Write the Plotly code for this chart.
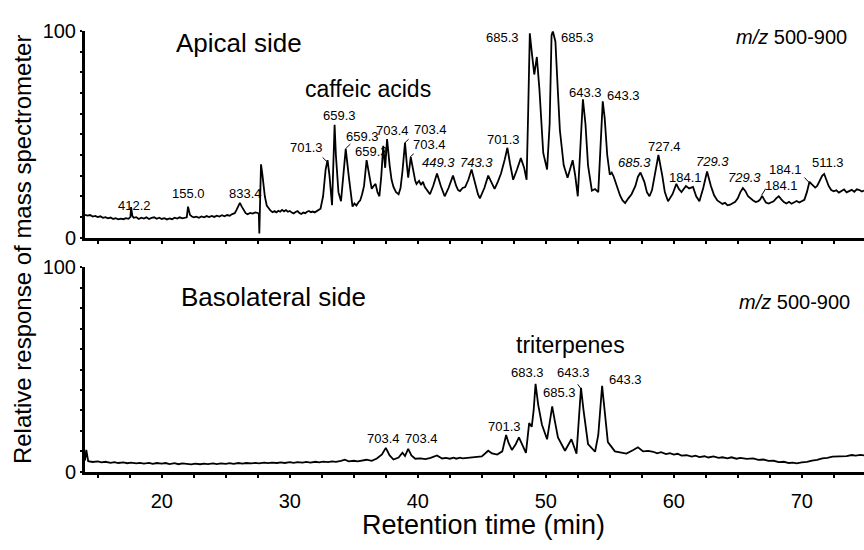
import plotly.graph_objects as go

# ---------------- data (retention time [min], relative response [%]) ----------------
apical_points = [
    (14.0, 11.0), (14.2, 10.6), (14.4, 10.9), (14.6, 10.2), (14.8, 10.5), (15.0, 9.9), (15.2, 10.3),
    (15.4, 9.6), (15.6, 9.9), (15.8, 9.3), (16.0, 9.7), (16.2, 9.0), (16.4, 9.4), (16.6, 8.8),
    (16.8, 9.2), (17.0, 8.9), (17.2, 9.4), (17.4, 9.1), (17.55, 10.0), (17.6, 14.8), (17.7, 10.5),
    (17.8, 9.6), (18.0, 9.9), (18.2, 9.0), (18.4, 9.6), (18.6, 9.2), (18.8, 9.8), (19.0, 9.0),
    (19.2, 9.5), (19.4, 9.8), (19.6, 9.1), (19.8, 9.6), (20.0, 9.0), (20.2, 9.4), (20.4, 8.8),
    (20.6, 9.3), (20.8, 8.9), (21.0, 9.6), (21.2, 9.2), (21.4, 9.8), (21.6, 9.3), (21.8, 9.6),
    (21.95, 9.8), (22.05, 15.0), (22.2, 11.0), (22.35, 10.2), (22.5, 9.8), (22.7, 10.1), (22.9, 9.6),
    (23.1, 10.2), (23.3, 9.8), (23.5, 10.4), (23.7, 9.9), (23.9, 10.5), (24.1, 10.0), (24.3, 10.6),
    (24.5, 10.2), (24.7, 10.8), (24.9, 10.3), (25.1, 10.9), (25.3, 10.6), (25.5, 11.4), (25.7, 11.8),
    (25.85, 13.5), (26.0, 16.0), (26.1, 16.8), (26.25, 15.0), (26.4, 13.0), (26.55, 11.8), (26.7, 11.3),
    (26.9, 11.9), (27.1, 11.6), (27.3, 12.2), (27.5, 11.9), (27.58, 11.5), (27.62, 2.0), (27.68, 20.0),
    (27.75, 35.5), (27.85, 31.0), (27.95, 25.0), (28.05, 20.0), (28.2, 15.5), (28.35, 14.0), (28.5, 13.0),
    (28.65, 12.3), (28.8, 12.8), (28.95, 12.2), (29.1, 13.0), (29.25, 12.5), (29.4, 13.4), (29.55, 12.7),
    (29.7, 13.3), (29.85, 12.5), (30.0, 12.9), (30.15, 12.1), (30.3, 11.7), (30.45, 12.4), (30.6, 12.8),
    (30.75, 11.9), (30.9, 11.4), (31.05, 12.1), (31.2, 11.8), (31.35, 12.5), (31.5, 12.9), (31.65, 12.3),
    (31.8, 12.6), (31.95, 12.2), (32.1, 12.9), (32.25, 13.3), (32.4, 14.0), (32.6, 20.0), (32.8, 33.0),
    (32.95, 37.5), (33.1, 30.0), (33.3, 15.7), (33.42, 35.0), (33.5, 54.6), (33.6, 40.0), (33.8, 22.0),
    (34.0, 17.6), (34.2, 32.0), (34.37, 43.0), (34.6, 30.0), (34.9, 15.0), (35.05, 16.5), (35.2, 15.5),
    (35.35, 17.0), (35.5, 18.0), (35.65, 21.0), (35.8, 25.0), (36.0, 37.5), (36.2, 30.0), (36.4, 23.6),
    (36.55, 25.0), (36.7, 26.0), (36.85, 22.0), (37.0, 20.0), (37.15, 30.0), (37.3, 44.4), (37.45, 33.8),
    (37.6, 47.7), (37.8, 35.0), (37.95, 28.0), (38.1, 24.5), (38.3, 22.0), (38.5, 21.0), (38.65, 24.0),
    (38.8, 32.0), (39.0, 46.0), (39.15, 35.0), (39.25, 29.0), (39.45, 39.0), (39.65, 32.0), (39.8, 27.5),
    (39.9, 26.0), (40.1, 27.5), (40.25, 25.5), (40.4, 27.0), (40.55, 24.5), (40.7, 23.0), (40.95, 21.0),
    (41.2, 25.0), (41.5, 31.0), (41.8, 25.0), (41.95, 22.0), (42.1, 20.0), (42.4, 24.0), (42.75, 30.0),
    (43.0, 25.0), (43.15, 23.0), (43.3, 22.5), (43.5, 24.0), (43.7, 24.5), (43.95, 28.0), (44.2, 33.0),
    (44.5, 26.0), (44.7, 21.0), (44.85, 19.0), (45.2, 24.0), (45.5, 30.0), (45.8, 26.0), (46.0, 23.6),
    (46.25, 27.0), (46.5, 31.0), (46.8, 38.0), (47.0, 43.5), (47.2, 36.0), (47.45, 28.0), (47.75, 33.0),
    (48.05, 38.5), (48.3, 34.0), (48.5, 28.0), (48.62, 60.0), (48.75, 99.0), (48.9, 90.0), (49.1, 79.0),
    (49.3, 87.5), (49.5, 72.0), (49.8, 41.0), (50.1, 33.0), (50.3, 55.0), (50.45, 98.0), (50.55, 100.0),
    (50.75, 95.0), (50.95, 70.0), (51.1, 52.0), (51.4, 35.0), (51.7, 29.0), (52.1, 37.5), (52.3, 30.0),
    (52.5, 20.0), (52.7, 45.0), (52.9, 67.0), (53.1, 55.0), (53.3, 35.0), (53.6, 22.7), (53.85, 23.5),
    (54.1, 22.0), (54.25, 40.0), (54.45, 66.0), (54.6, 58.0), (54.8, 40.0), (55.0, 30.5), (55.15, 31.5),
    (55.3, 29.6), (55.55, 25.0), (55.8, 20.4), (56.0, 18.0), (56.2, 16.7), (56.45, 19.0), (56.7, 21.0),
    (57.0, 25.0), (57.2, 29.5), (57.4, 31.5), (57.7, 27.0), (57.9, 22.0), (58.1, 20.0), (58.3, 23.0),
    (58.5, 30.0), (58.8, 40.0), (59.1, 30.0), (59.3, 22.0), (59.55, 17.6), (59.9, 21.0), (60.2, 26.0),
    (60.4, 23.5), (60.6, 22.0), (60.8, 24.0), (60.95, 25.0), (61.2, 23.8), (61.5, 24.5), (61.75, 20.0),
    (62.0, 17.6), (62.3, 24.0), (62.6, 32.0), (62.9, 25.0), (63.15, 20.5), (63.4, 18.0), (63.6, 17.0),
    (63.8, 16.3), (64.0, 16.8), (64.2, 15.6), (64.4, 15.9), (64.6, 16.5), (64.8, 17.3), (65.0, 19.0),
    (65.2, 22.0), (65.4, 24.0), (65.6, 22.5), (65.8, 20.0), (66.0, 18.8), (66.2, 18.0), (66.4, 17.2),
    (66.6, 17.6), (66.75, 18.5), (66.9, 20.2), (67.05, 18.5), (67.2, 17.0), (67.4, 16.5), (67.6, 16.9),
    (67.8, 17.6), (68.0, 19.0), (68.2, 20.0), (68.4, 18.5), (68.6, 17.2), (68.8, 16.5), (69.0, 17.3),
    (69.2, 16.4), (69.4, 16.9), (69.6, 17.7), (69.8, 17.0), (70.0, 17.8), (70.2, 18.3), (70.4, 22.0),
    (70.6, 27.0), (70.75, 26.0), (70.9, 25.0), (71.05, 24.2), (71.2, 25.0), (71.4, 27.5), (71.6, 30.0),
    (71.75, 30.8), (71.9, 28.0), (72.1, 25.0), (72.3, 23.0), (72.5, 22.4), (72.7, 22.9), (72.9, 21.8),
    (73.1, 22.6), (73.3, 23.3), (73.5, 21.9), (73.7, 22.7), (73.9, 23.1), (74.1, 22.2), (74.3, 23.4),
    (74.5, 23.0), (74.7, 22.3), (74.86, 22.8),
]

baso_points = [
    (14.0, 5.5), (14.1, 10.7), (14.25, 5.2), (14.6, 4.8), (15.0, 5.1), (15.3, 4.6), (15.6, 4.9),
    (16.0, 4.4), (16.3, 4.7), (16.6, 4.3), (17.0, 4.6), (17.3, 4.2), (17.6, 4.5), (18.0, 4.1),
    (18.3, 4.4), (18.6, 4.0), (19.0, 4.4), (19.3, 3.9), (19.6, 4.3), (20.0, 4.0), (20.3, 4.3),
    (20.6, 3.8), (21.0, 4.2), (21.3, 3.7), (21.6, 4.1), (22.0, 3.8), (22.3, 3.6), (22.6, 4.0),
    (23.0, 3.7), (23.3, 4.0), (23.6, 3.8), (24.0, 4.1), (24.3, 3.8), (24.6, 4.1), (25.0, 3.9),
    (25.3, 4.2), (25.6, 3.9), (26.0, 4.3), (26.3, 4.0), (26.6, 4.3), (27.0, 4.1), (27.3, 4.4),
    (27.6, 4.1), (28.0, 4.5), (28.3, 4.2), (28.6, 4.5), (29.0, 4.3), (29.3, 4.6), (29.6, 4.3),
    (30.0, 4.7), (30.3, 4.4), (30.6, 4.7), (31.0, 4.5), (31.3, 4.8), (31.6, 4.5), (32.0, 4.9),
    (32.3, 4.6), (32.6, 5.0), (33.0, 4.7), (33.3, 5.1), (33.6, 4.9), (34.0, 5.3), (34.3, 5.9),
    (34.6, 5.1), (35.0, 5.4), (35.3, 5.1), (35.6, 5.6), (36.0, 5.9), (36.4, 5.4), (36.8, 6.5),
    (37.2, 8.5), (37.5, 11.7), (37.8, 8.0), (38.1, 6.0), (38.5, 7.0), (38.8, 9.3), (39.0, 7.7),
    (39.25, 11.2), (39.5, 8.0), (39.8, 6.4), (40.2, 6.6), (40.6, 6.2), (41.0, 6.8), (41.5, 8.0),
    (41.9, 6.5), (42.2, 6.8), (42.5, 6.4), (42.8, 6.9), (43.0, 6.4), (43.3, 6.9), (43.5, 6.6),
    (44.0, 6.8), (44.5, 7.2), (45.0, 7.5), (45.5, 10.3), (45.8, 9.0), (46.2, 8.4), (46.6, 10.0),
    (46.9, 18.0), (47.1, 14.0), (47.35, 10.7), (47.65, 13.5), (47.9, 16.8), (48.2, 12.5), (48.45, 9.3),
    (48.7, 23.8), (48.9, 22.0), (49.05, 30.0), (49.2, 43.0), (49.4, 33.0), (49.7, 23.0), (50.1, 15.9),
    (50.3, 24.0), (50.5, 32.0), (50.7, 25.0), (50.95, 16.8), (51.5, 10.3), (52.0, 15.9), (52.4, 8.9),
    (52.6, 25.0), (52.75, 41.0), (52.95, 30.0), (53.3, 13.6), (53.85, 9.8), (54.1, 18.0), (54.4, 42.0),
    (54.6, 30.0), (54.85, 14.5), (55.4, 10.0), (55.9, 9.5), (56.3, 8.9), (56.8, 10.5), (57.2, 12.0),
    (57.6, 10.0), (58.0, 10.2), (58.4, 9.8), (58.7, 9.0), (59.0, 9.6), (59.4, 8.7), (59.7, 9.1),
    (60.0, 8.4), (60.3, 8.8), (60.6, 7.9), (61.0, 8.1), (61.4, 7.4), (61.7, 7.9), (62.0, 7.2),
    (62.4, 7.6), (62.7, 7.0), (63.1, 7.5), (63.5, 6.8), (63.8, 7.1), (64.2, 6.6), (64.5, 7.1),
    (64.9, 6.4), (65.2, 6.8), (65.7, 6.3), (66.2, 6.6), (66.6, 5.8), (67.0, 6.0), (67.4, 5.3),
    (67.8, 5.4), (68.2, 4.7), (68.6, 4.9), (69.0, 4.3), (69.3, 4.5), (69.6, 4.1), (70.0, 4.6),
    (70.4, 4.8), (70.8, 5.5), (71.2, 5.8), (71.6, 6.6), (72.0, 6.8), (72.4, 7.4), (72.75, 7.5),
    (73.1, 7.9), (73.5, 7.7), (73.9, 8.2), (74.2, 7.9), (74.6, 8.3), (74.86, 8.0),
]

# peak labels: (text, x, y, italic)
apical_labels = [("412.2", 17.9, 15.3, False), ("155.0", 22.05, 21.3, False), ("833.4", 26.5, 21.3, False),
                 ("701.3", 31.3, 43.5, False), ("659.3", 33.9, 59.3, False), ("659.3", 35.7, 49.0, False),
                 ("659.3", 36.4, 41.6, False), ("703.4", 38.0, 51.9, False), ("703.4", 41.0, 52.3, False),
                 ("703.4", 40.9, 44.9, False), ("449.3", 41.65, 36.6, True), ("743.3", 44.6, 36.6, True),
                 ("701.3", 46.7, 47.7, False), ("685.3", 46.65, 96.8, False), ("685.3", 52.45, 96.8, False),
                 ("643.3", 53.1, 70.4, False), ("643.3", 56.1, 69.0, False), ("685.3", 56.9, 36.6, True),
                 ("727.4", 59.3, 44.0, False), ("184.1", 60.95, 29.2, False), ("729.3", 63.05, 37.0, True),
                 ("729.3", 65.5, 29.2, True), ("184.1", 68.4, 25.0, False), ("184.1", 68.7, 32.9, False),
                 ("511.3", 72.05, 36.6, False)]
baso_labels = [("703.4", 37.3, 16.4, False), ("703.4", 40.3, 16.4, False), ("701.3", 46.8, 22.4, False),
               ("683.3", 48.6, 48.6, False), ("643.3", 52.2, 48.6, False), ("685.3", 51.1, 38.8, False),
               ("643.3", 56.2, 44.9, False)]

# leader lines from label to peak: (x_label, y_label, x_peak, y_peak)
apical_leaders = [(32.45, 39.5, 32.9, 36.8), (34.85, 46.0, 34.35, 43.0), (39.4, 48.3, 39.0, 46.0),
                  (39.8, 41.3, 39.4, 39.0), (67.25, 24.4, 66.86, 20.5), (70.1, 29.8, 70.6, 26.5)]
baso_leaders = [(52.41, 43.5, 52.8, 40.2)]

x_tickvals = [20, 30, 40, 50, 60, 70]
y_tickvals = [0, 100]

apical_t = [p[0] for p in apical_points]
apical_v = [p[1] for p in apical_points]
baso_t = [p[0] for p in baso_points]
baso_v = [p[1] for p in baso_points]

FONT = "Liberation Sans, Arial, sans-serif"

fig = go.Figure()
fig.add_trace(go.Scatter(x=apical_t, y=apical_v, mode="lines", line=dict(color="black", width=1.8),
                         xaxis="x", yaxis="y", showlegend=False))
fig.add_trace(go.Scatter(x=baso_t, y=baso_v, mode="lines", line=dict(color="black", width=1.8),
                         xaxis="x2", yaxis="y2", showlegend=False))

minor_x = [v / 2 for v in range(30, 150, 5)]
xcommon = dict(range=[14, 74.86], domain=[85 / 864, 1.0], showgrid=False, zeroline=False,
               showline=True, linecolor="black", linewidth=3, ticks="outside", ticklen=3, tickwidth=2,
               tickcolor="black", tickmode="array", tickvals=minor_x)
yvals = list(range(0, 101, 10))
ycommon = dict(range=[0, 100], showgrid=False, zeroline=False, showline=True, linecolor="black",
               linewidth=3, ticks="outside", ticklen=2, tickwidth=2, tickcolor="black",
               tickmode="array", tickvals=yvals,
               ticktext=[str(v) if v in y_tickvals else "" for v in yvals],
               tickfont=dict(family=FONT, size=20, color="black"))

fig.update_layout(
    width=864, height=550, margin=dict(l=0, r=0, t=0, b=0),
    paper_bgcolor="white", plot_bgcolor="white",
    xaxis=dict(**xcommon, anchor="y", showticklabels=False),
    yaxis=dict(**ycommon, domain=[(550 - 236) / 550, (550 - 21) / 550], anchor="x"),
    xaxis2=dict(**xcommon, anchor="y2", showticklabels=True,
                ticktext=[str(int(v)) if v in x_tickvals else "" for v in minor_x],
                ticklabelstandoff=6,
                tickfont=dict(family=FONT, size=20, color="black")),
    yaxis2=dict(**ycommon, domain=[(550 - 480) / 550, (550 - 267) / 550], anchor="x2"),
)

ann = []
lab_font = dict(family=FONT, size=13, color="black")
for txt, x, y, it in apical_labels:
    ann.append(dict(x=x, y=y, xref="x", yref="y", text=f"<i>{txt}</i>" if it else txt, showarrow=False,
                    font=lab_font))
for txt, x, y, it in baso_labels:
    ann.append(dict(x=x, y=y, xref="x2", yref="y2", text=f"<i>{txt}</i>" if it else txt, showarrow=False,
                    font=lab_font))
for (x0, y0, x1, y1) in apical_leaders:
    ann.append(dict(x=x1, y=y1, ax=x0, ay=y0, xref="x", yref="y", axref="x", ayref="y", text="",
                    showarrow=True, arrowhead=0, arrowwidth=1, arrowcolor="black", standoff=0,
                    startstandoff=0))
for (x0, y0, x1, y1) in baso_leaders:
    ann.append(dict(x=x1, y=y1, ax=x0, ay=y0, xref="x2", yref="y2", axref="x2", ayref="y2", text="",
                    showarrow=True, arrowhead=0, arrowwidth=1, arrowcolor="black", standoff=0,
                    startstandoff=0))

big = dict(family=FONT, size=26, color="black")
mid = dict(family=FONT, size=23, color="black")
mz = dict(family=FONT, size=20, color="black")
ann += [
    dict(x=26.0, y=94.4, xref="x", yref="y", text="Apical side", showarrow=False, font=big),
    dict(x=36.1, y=72.2, xref="x", yref="y", text="caffeic acids", showarrow=False, font=mid),
    dict(x=69.2, y=97.2, xref="x", yref="y", text="<i>m/z</i> 500-900", showarrow=False, font=mz),
    dict(x=28.7, y=85.5, xref="x2", yref="y2", text="Basolateral side", showarrow=False, font=big),
    dict(x=51.9, y=62.1, xref="x2", yref="y2", text="triterpenes", showarrow=False, font=mid),
    dict(x=69.4, y=83.2, xref="x2", yref="y2", text="<i>m/z</i> 500-900", showarrow=False, font=mz),
    dict(x=483 / 864, y=(550 - 535) / 550, xref="paper", yref="paper", xanchor="center", yanchor="middle",
         text="Retention time (min)", showarrow=False, font=dict(family=FONT, size=27, color="black")),
    dict(x=22 / 864, y=(550 - 248) / 550, xref="paper", yref="paper", xanchor="center", yanchor="middle",
         text="Relative response of mass spectrometer", textangle=-90, showarrow=False,
         font=dict(family=FONT, size=24, color="black")),
]
fig.update_layout(annotations=ann)

fig.write_html("out.html")
